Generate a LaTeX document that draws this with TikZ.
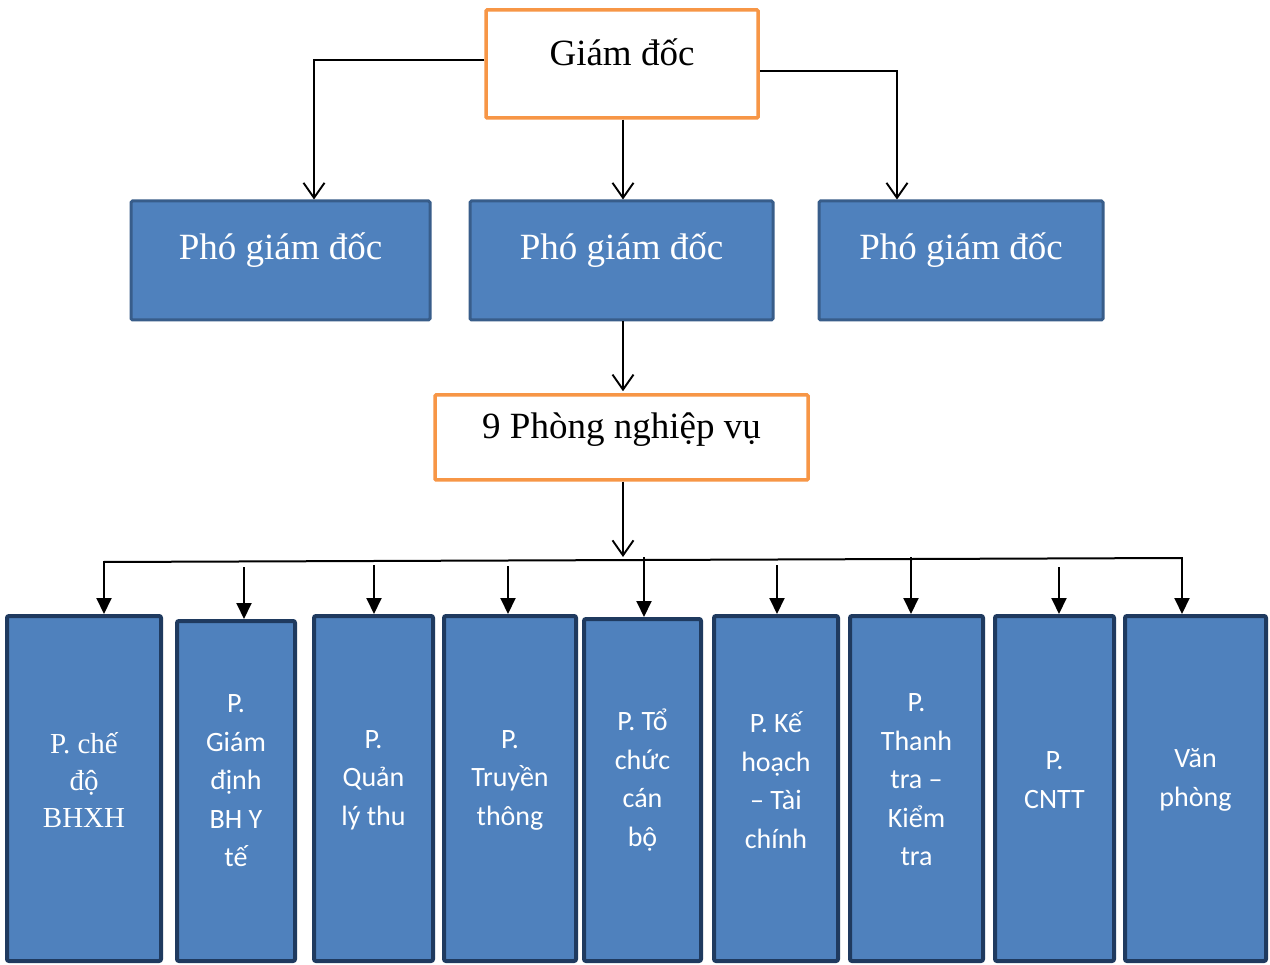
\documentclass[tikz,border=0pt]{standalone}
\usepackage{fontspec}
\setmainfont{Liberation Serif}
\newfontfamily\calibrifont{Carlito}
\usetikzlibrary{arrows.meta}
\definecolor{orangeb}{HTML}{F79646}
\definecolor{bluefill}{HTML}{4F81BD}
\definecolor{blueedge}{HTML}{385D8A}
\definecolor{navyedge}{HTML}{1F3A5F}
\begin{document}
\begin{tikzpicture}[x=1pt,y=-1pt,
  topbox/.style={draw=orangeb, line width=3.5pt, fill=white, rounded corners=1pt, inner sep=0pt},
  vpbox/.style={draw=blueedge, line width=3pt, fill=bluefill, rounded corners=1.5pt, inner sep=0pt},
  deptbox/.style={draw=navyedge, line width=4pt, fill=bluefill, rounded corners=2pt, inner sep=0pt},
  bigtxt/.style={font=\fontsize{37}{41}\selectfont, inner sep=0pt},
  vptxt/.style={bigtxt, text=white},
  depttxt/.style={font=\calibrifont\fontsize{28}{38.5}\selectfont, text=white, align=center, inner sep=0pt},
  serifdept/.style={font=\fontsize{29}{37}\selectfont, text=white, align=center, inner sep=0pt},
  openarr/.style={line width=1.9pt, -{Straight Barb[length=15pt,width=21pt,line width=1.9pt]}},
  filarr/.style={line width=2pt, -{Triangle[length=16pt,width=15pt]}},
  busline/.style={line width=2pt}
]
\useasboundingbox (0,0) rectangle (1270,965);
\fill[white] (0,0) rectangle (1270,965);

% top boxes
\node[topbox, minimum width=272pt, minimum height=108pt] (gd) at (622,64) {};
\node[bigtxt] (gdt) at (622,52) {Giám đốc};

\node[vpbox, minimum width=299pt, minimum height=119pt] (vp1) at (280.5,260.5) {};
\node[vpbox, minimum width=303pt, minimum height=119pt] (vp2) at (621.5,260.5) {};
\node[vpbox, minimum width=284pt, minimum height=119pt] (vp3) at (961,260.5) {};
\node[vptxt] (vp1t) at (280.5,250) {Phó giám đốc};
\node[vptxt] (vp2t) at (621.5,250) {Phó giám đốc};
\node[vptxt] (vp3t) at (961,250) {Phó giám đốc};

\node[topbox, minimum width=373pt, minimum height=85pt] (np) at (621.5,437.5) {};
\node[bigtxt] (npt) at (621.5,430) {9 Phòng nghiệp vụ};

% department boxes
\node[deptbox, minimum width=154pt, minimum height=345pt] (d1) at (84,788.5) {};
\node[deptbox, minimum width=118pt, minimum height=340pt] (d2) at (236,791) {};
\node[deptbox, minimum width=119pt, minimum height=345pt] (d3) at (373.5,788.5) {};
\node[deptbox, minimum width=132pt, minimum height=345pt] (d4) at (510,788.5) {};
\node[deptbox, minimum width=117pt, minimum height=342pt] (d5) at (642.5,790) {};
\node[deptbox, minimum width=124pt, minimum height=345pt] (d6) at (776,788.5) {};
\node[deptbox, minimum width=133pt, minimum height=345pt] (d7) at (916.5,788.5) {};
\node[deptbox, minimum width=119pt, minimum height=345pt] (d8) at (1054.5,788.5) {};
\node[deptbox, minimum width=141pt, minimum height=345pt] (d9) at (1195.5,788.5) {};

\node[serifdept] (d1t) at (84,780) {P. chế\\độ\\BHXH};
\node[depttxt] (d2t) at (236,781) {P.\\Giám\\định\\BH Y\\tế};
\node[depttxt] (d3t) at (373.5,780) {P.\\Quản\\lý thu};
\node[depttxt] (d4t) at (510,780) {P.\\Truyền\\thông};
\node[depttxt] (d5t) at (642.5,780) {P. Tổ\\chức\\cán\\bộ};
\node[depttxt] (d6t) at (776,780) {P. Kế\\hoạch\\– Tài\\chính};
\node[depttxt] (d7t) at (916.5,780) {P.\\Thanh\\tra –\\Kiểm\\tra};
\node[depttxt] (d8t) at (1054.5,780) {P.\\CNTT};
\node[depttxt] (d9t) at (1195.5,780) {Văn\\phòng};

% connectors top
\draw[openarr] ([yshift=4pt]gd.west) -| ([xshift=33.5pt]vp1.north);
\draw[openarr] ([xshift=1pt]gd.south) -- ([xshift=1.5pt]vp2.north);
\draw[openarr] ([yshift=-7pt]gd.east) -| ([xshift=-64pt]vp3.north);
\draw[openarr] ([xshift=1.5pt]vp2.south) -- ([xshift=1.5pt,yshift=2pt]np.north);
\coordinate (busm) at (623,557);
\draw[openarr] ([xshift=1.5pt]np.south) -- (busm);

% bus
\coordinate (busL) at (104,562);
\coordinate (busR) at (1182,558);
\draw[busline] (busL) -- (busR);

\coordinate (s1) at (104,561);
\coordinate (s2) at (244,567);
\coordinate (s3) at (374,565);
\coordinate (s4) at (508,566);
\coordinate (s5) at (644,557);
\coordinate (s6) at (777,565);
\coordinate (s7) at (911,557);
\coordinate (s8) at (1059,567);
\coordinate (s9) at (1182,557);
\foreach \i in {1,...,9} {
  \draw[filarr] (s\i) -- (s\i |- d\i.north);
}
\end{tikzpicture}
\end{document}
